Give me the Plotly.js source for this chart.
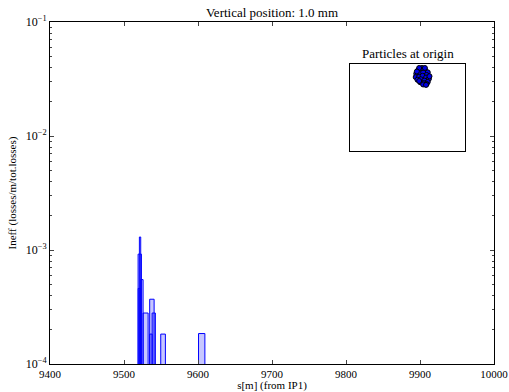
<!DOCTYPE html>
<html><head><meta charset="utf-8">
<script src="https://cdn.plot.ly/plotly-3.0.1.min.js"></script>
<style>body{margin:0;background:#fff}#c{width:509px;height:392px}</style>
</head><body><div id="c"></div>
<script>
// Loss histogram bars (s position centre [m], bin width [m], inefficiency)
const barCenters = [9521.3, 9521.7, 9520.5, 9524.2, 9529.2, 9537.7, 9540.2, 9536.4, 9552.8, 9605.0];
const barWidths  = [4.5, 1.8, 2.7, 3.2, 6.8, 6.0, 4.4, 3.3, 6.3, 8.6];
const barValues  = [9.2e-4, 1.3e-3, 4.6e-4, 5.5e-4, 2.8e-4, 3.7e-4, 2.8e-4, 1.83e-4, 1.83e-4, 1.85e-4];
// Particles at origin (inset, normalised coordinates)
const originX = [0.590,0.620,0.650,0.675,0.575,0.605,0.635,0.665,0.570,0.600,0.630,0.660,0.685,0.585,0.615,0.645,0.675,0.610,0.640,0.665,0.625,0.600,0.650,0.580,0.690,0.635,0.660,0.600];
const originY = [0.925,0.940,0.935,0.905,0.890,0.895,0.905,0.875,0.850,0.855,0.865,0.845,0.830,0.820,0.825,0.810,0.795,0.790,0.780,0.770,0.955,0.955,0.955,0.915,0.860,0.765,0.760,0.805];
const yTickVals = [1e-4, 1e-3, 1e-2, 1e-1];
const yTickText = ['10<sup>−4</sup>','10<sup>−3</sup>','10<sup>−2</sup>','10<sup>−1</sup>'];
const xTickVals = [9400, 9500, 9600, 9700, 9800, 9900, 10000];
const xTickText = ['9400', '9500', '9600', '9700', '9800', '9900', '10000'];

const minorVals = [];
for (let e = -4; e < -1; e++) for (let m = 2; m <= 9; m++) minorVals.push(m * Math.pow(10, e));

const font = {family: 'Times New Roman, Liberation Serif, serif', color: '#000'};
const traces = [
  {type: 'bar', x: barCenters, y: barValues, width: barWidths,
   marker: {color: 'rgba(0,0,255,0.22)', line: {color: 'rgb(0,0,255)', width: 1}},
   xaxis: 'x', yaxis: 'y', hoverinfo: 'none'},
  {type: 'scatter', mode: 'markers', x: originX, y: originY, xaxis: 'x2', yaxis: 'y2',
   marker: {color: 'rgb(0,0,230)', size: 5, line: {color: '#000', width: 1}}, hoverinfo: 'none'}
];
const layout = {
  width: 509, height: 392, showlegend: false, barmode: 'overlay',
  paper_bgcolor: '#fff', plot_bgcolor: '#fff',
  margin: {l: 49.5, r: 15, t: 22, b: 28, pad: 0},
  font: Object.assign({size: 12}, font),
  title: {text: 'Vertical position: 1.0 mm', x: 0.5, xref: 'paper', y: 0.968, yanchor: 'middle',
          font: Object.assign({size: 13}, font)},
  xaxis: {range: [9400, 10000], tickvals: xTickVals, ticktext: xTickText, ticks: 'inside', ticklen: 4, mirror: 'ticks',
          showline: true, linecolor: '#000', linewidth: 1, showgrid: false, zeroline: false,
          tickfont: Object.assign({size: 11}, font),
          title: {text: 's[m] (from IP1)', standoff: 0, font: Object.assign({size: 11}, font)}},
  yaxis: {type: 'log', range: [-4, -1], tickvals: yTickVals, ticktext: yTickText,
          ticks: 'inside', ticklen: 4, mirror: 'ticks', showline: true, linecolor: '#000',
          linewidth: 1, showgrid: false, zeroline: false,
          tickfont: Object.assign({size: 12}, font),
          minor: {tickvals: minorVals, ticks: 'inside', ticklen: 2, showgrid: false},
          title: {text: 'Ineff (losses/m/tot.losses)', standoff: 6, font: Object.assign({size: 11}, font)}},
  xaxis2: {domain: [0.676, 0.935], anchor: 'y2', range: [0, 1], showticklabels: false, ticks: '',
           showline: true, mirror: true, linecolor: '#000', linewidth: 1, showgrid: false, zeroline: false},
  yaxis2: {domain: [0.623, 0.877], anchor: 'x2', range: [0, 1], showticklabels: false, ticks: '',
           showline: true, mirror: true, linecolor: '#000', linewidth: 1, showgrid: false, zeroline: false},
  annotations: [{text: 'Particles at origin', xref: 'paper', yref: 'paper', x: 0.8055, y: 0.88,
                 xanchor: 'center', yanchor: 'bottom', showarrow: false, font: Object.assign({size: 13}, font)}]
};
Plotly.newPlot('c', traces, layout, {staticPlot: true});
</script></body></html>
